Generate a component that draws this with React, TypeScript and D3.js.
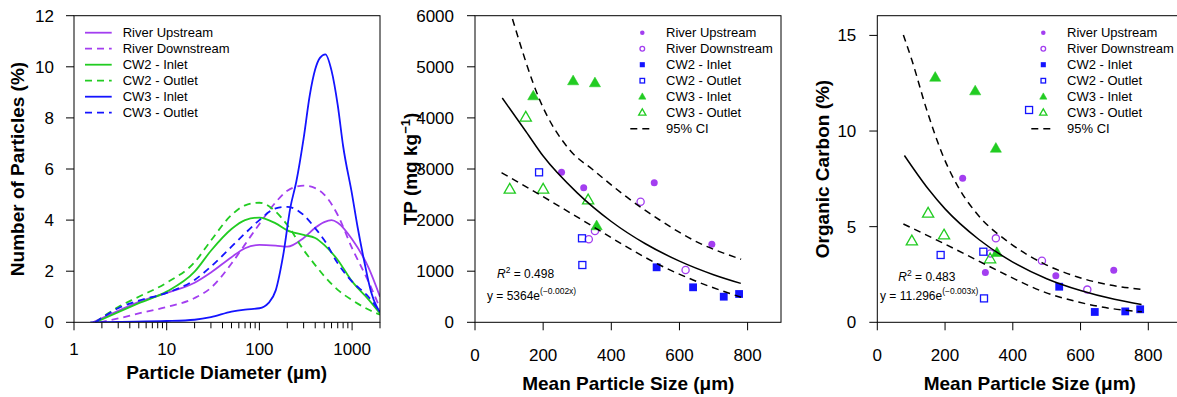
import React from 'react';
import * as d3 from 'd3';

const FONT = '"Liberation Sans", Arial, Helvetica, sans-serif';
const PURPLE = '#a33ef0';
const GREEN = '#22cc22';
const BLUE = '#1414ff';

// ---- panel 1: particle size distributions [diameter (µm), % of particles]
const psdRiverUp = [[1.6, 0], [3, 0.45], [5, 0.8], [10, 1.15], [20, 1.55], [30, 1.95], [50, 2.55], [70, 2.9], [100, 3.03], [150, 3.0], [200, 2.96], [300, 3.3], [400, 3.7], [500, 3.92], [600, 4.0], [700, 3.9], [1000, 3.25], [1500, 2.15], [2000, 1.0]];
const psdRiverDown = [[1.9, 0], [3, 0.15], [5, 0.35], [10, 0.6], [20, 0.95], [30, 1.35], [50, 2.3], [70, 3.05], [100, 3.85], [150, 4.7], [200, 5.15], [300, 5.35], [400, 5.25], [500, 5.0], [700, 4.2], [1000, 2.9], [1500, 1.6], [2000, 0.55]];
const psdCw2In = [[1.7, 0], [3, 0.4], [5, 0.75], [10, 1.2], [20, 1.98], [30, 2.8], [50, 3.65], [70, 4.0], [100, 4.1], [150, 3.87], [200, 3.6], [300, 3.42], [400, 3.3], [500, 3.03], [700, 2.44], [1000, 1.6], [1500, 0.9], [2000, 0.35]];
const psdCw2Out = [[1.7, 0], [3, 0.6], [5, 1.0], [10, 1.55], [20, 2.35], [30, 3.2], [50, 4.2], [70, 4.58], [100, 4.68], [150, 4.33], [200, 3.81], [300, 2.83], [400, 2.24], [500, 1.81], [700, 1.27], [1000, 0.87], [1500, 0.5], [2000, 0.3]];
const psdCw3In = [[1.5, 0], [3, 0.02], [10, 0.05], [20, 0.1], [30, 0.2], [50, 0.42], [70, 0.5], [100, 0.55], [125, 0.75], [150, 1.25], [180, 2.6], [216, 4.5], [250, 5.5], [300, 7.2], [350, 8.9], [400, 9.9], [450, 10.35], [515, 10.49], [600, 9.85], [700, 8.5], [800, 6.9], [1000, 5.0], [1150, 3.7], [1350, 2.4], [1600, 1.2], [1850, 0.6], [2000, 0.4]];
const psdCw3Out = [[1.7, 0], [3, 0.55], [5, 0.85], [10, 1.15], [20, 1.66], [30, 2.18], [50, 2.96], [70, 3.48], [100, 4.0], [150, 4.46], [200, 4.52], [300, 4.2], [400, 3.68], [500, 3.22], [700, 2.31], [1000, 1.59], [1500, 1.0], [2000, 0.4]];

const psdNames = ['River Upstream', 'River Downstream', 'CW2 - Inlet', 'CW2 - Outlet', 'CW3 - Inlet', 'CW3 - Outlet'];
const psdColors = [PURPLE, PURPLE, GREEN, GREEN, BLUE, BLUE];
const psdSeries = [psdRiverUp, psdRiverDown, psdCw2In, psdCw2Out, psdCw3In, psdCw3Out];

const psdXMajor = [1, 10, 100, 1000];
const psdXMinor = [2, 3, 4, 5, 6, 7, 8, 9, 20, 30, 40, 50, 60, 70, 80, 90, 200, 300, 400, 500, 600, 700, 800, 900, 2000];
const psdYTicks = [0, 2, 4, 6, 8, 10, 12];

// ---- panel 2: TP vs mean particle size [µm, mg/kg]
const tpRiverUp = [[254, 2935], [319, 2635], [526, 2732], [695, 1526]];
const tpRiverDown = [[334, 1624], [352, 1787], [486, 2360], [618, 1023]];
const tpCw2In = [[533, 1076], [640, 685], [730, 501], [775, 554]];
const tpCw2Out = [[188, 2935], [314, 1644], [315, 1121]];
const tpCw3In = [[171, 4428], [288, 4722], [352, 4683], [357, 1885]];
const tpCw3Out = [[102, 2603], [149, 4012], [200, 2603], [332, 2393]];
const tpFit = [[80, 4389], [150, 3730], [200, 3253], [300, 2533], [400, 1973], [500, 1537], [600, 1197], [700, 932], [780, 762]];
const tpCiUpper = [[110, 5935], [190, 4350], [278, 3372], [347, 2980], [444, 2458], [542, 2002], [640, 1611], [781, 1233]];
const tpCiLower = [[78, 2928], [200, 2458], [347, 1871], [444, 1480], [542, 1121], [640, 828], [781, 489]];
const tpYTicks = [0, 1000, 2000, 3000, 4000, 5000, 6000];

// ---- panel 3: organic carbon vs mean particle size [µm, %]
const ocRiverUp = [[252, 7.53], [319, 2.61], [527, 2.44], [698, 2.72]];
const ocRiverDown = [[334, 3.6], [350, 4.39], [486, 3.22], [620, 1.71]];
const ocCw2In = [[537, 1.86], [642, 0.54], [732, 0.57], [776, 0.68]];
const ocCw2Out = [[187, 3.52], [313, 3.69], [315, 1.25], [448, 11.1]];
const ocCw3In = [[171, 12.8], [289, 12.09], [350, 9.09], [353, 3.64]];
const ocCw3Out = [[102, 4.25], [150, 5.7], [197, 4.56], [333, 3.31]];
const ocFit = [[80, 8.72], [150, 6.98], [200, 5.93], [300, 4.33], [400, 3.15], [500, 2.28], [600, 1.66], [700, 1.2], [780, 0.93]];
const ocCiUpper = [[77, 15.02], [102, 13.71], [146, 11.1], [195, 8.66], [244, 6.92], [293, 5.7], [392, 4.13], [490, 3.08], [589, 2.38], [687, 1.95], [781, 1.72]];
const ocCiLower = [[77, 5.14], [195, 4.13], [293, 3.26], [392, 2.38], [490, 1.6], [589, 1.08], [687, 0.73], [781, 0.55]];
const ocYTicks = [0, 5, 10, 15];

const sizeTicks = [0, 200, 400, 600, 800];
const scatterNames = ['River Upstream', 'River Downstream', 'CW2 - Inlet', 'CW2 - Outlet', 'CW3 - Inlet', 'CW3 - Outlet'];
const scatterStyles = [
  { shape: 'circle', filled: true, color: PURPLE },
  { shape: 'circle', filled: false, color: PURPLE },
  { shape: 'square', filled: true, color: BLUE },
  { shape: 'square', filled: false, color: BLUE },
  { shape: 'triangle', filled: true, color: GREEN },
  { shape: 'triangle', filled: false, color: GREEN },
];

const TICK = 8;

function Marker({ shape, filled, color, x, y, s = 1 }: any) {
  if (shape === 'circle') {
    return filled
      ? <circle cx={x} cy={y} r={3.5 * s} fill={color} />
      : <circle cx={x} cy={y} r={3.6 * s} fill="none" stroke={color} strokeWidth={1.3} />;
  }
  if (shape === 'square') {
    const h = (filled ? 3.9 : 3.5) * s;
    return <rect x={x - h} y={y - h} width={2 * h} height={2 * h}
      fill={filled ? color : 'none'} stroke={filled ? 'none' : color} strokeWidth={1.3} />;
  }
  const w = 5.6 * s, top = 5.9 * s, bot = 3.8 * s;
  return <path d={`M${x},${y - top}L${x + w},${y + bot}L${x - w},${y + bot}Z`}
    fill={filled ? color : 'none'} stroke={color} strokeWidth={filled ? 0.5 : 1.3} strokeLinejoin="miter" />;
}

function PsdPanel() {
  const x = d3.scaleLog().domain([1, 2000]).range([74, 380]);
  const y = d3.scaleLinear().domain([0, 12]).range([322.3, 15.7]);
  const line = d3.line<any>().x(d => x(d[0])).y(d => y(d[1])).curve(d3.curveMonotoneX);
  const [x0, x1] = x.range();
  const [y0, y1] = y.range();
  return (
    <g>
      <defs>
        <clipPath id="clip1"><rect x={x0} y={y1} width={x1 - x0} height={y0 - y1} /></clipPath>
      </defs>
      <g clipPath="url(#clip1)">
        {psdSeries.map((s, i) => (
          <path key={i} d={line(s) as string} fill="none" stroke={psdColors[i]} strokeWidth={1.8}
            strokeDasharray={i % 2 ? '7,5' : undefined} />
        ))}
      </g>
      <rect x={x0} y={y1} width={x1 - x0} height={y0 - y1} fill="none" stroke="#000" strokeWidth={1} />
      {psdYTicks.map(t => (
        <g key={t}>
          <line x1={x0 - TICK} x2={x0} y1={y(t)} y2={y(t)} stroke="#000" />
          <text x={x0 - 20} y={y(t)} dy="0.35em" textAnchor="end" fontSize={17}>{t}</text>
        </g>
      ))}
      {psdXMajor.map(t => (
        <g key={t}>
          <line x1={x(t)} x2={x(t)} y1={y0} y2={y0 + TICK} stroke="#000" />
          <text x={x(t)} y={349} dy="0.35em" textAnchor="middle" fontSize={17}>{t}</text>
        </g>
      ))}
      {psdXMinor.map(t => (
        <line key={t} x1={x(t)} x2={x(t)} y1={y0} y2={y0 + TICK - 2} stroke="#000" />
      ))}
      <text x={226.7} y={371.7} dy="0.36em" textAnchor="middle" fontSize={19} fontWeight="bold">Particle Diameter (µm)</text>
      <text transform="translate(17.5,169) rotate(-90)" dy="0.36em" textAnchor="middle" fontSize={19} fontWeight="bold">Number of Particles (%)</text>
      {psdNames.map((n, i) => (
        <g key={n}>
          <line x1={85} x2={111.7} y1={32.7 + 16 * i} y2={32.7 + 16 * i} stroke={psdColors[i]} strokeWidth={1.8}
            strokeDasharray={i % 2 ? '7,5' : undefined} />
          <text x={122.7} y={32.7 + 16 * i} dy="0.35em" fontSize={13}>{n}</text>
        </g>
      ))}
    </g>
  );
}

function ScatterPanel({ id, x, y, groups, fit, ciUpper, ciLower, yTicks, yTitle, yTitleX, r2, eq, annX, eqX, r2Y, eqY, legX }: any) {
  const line = d3.line<any>().x(d => x(d[0])).y(d => y(d[1])).curve(d3.curveMonotoneX);
  const [x0, x1] = x.range();
  const [y0, y1] = y.range();
  return (
    <g>
      <defs>
        <clipPath id={id}><rect x={x0} y={y1} width={x1 - x0} height={y0 - y1} /></clipPath>
      </defs>
      <g clipPath={`url(#${id})`}>
        {groups.map((g: any, gi: number) => g.map((p: any, pi: number) => (
          <Marker key={`${gi}-${pi}`} {...scatterStyles[gi]} x={x(p[0])} y={y(p[1])} />
        )))}
        <path d={line(fit) as string} fill="none" stroke="#000" strokeWidth={1.5} />
        <path d={line(ciUpper) as string} fill="none" stroke="#000" strokeWidth={1.5} strokeDasharray="7,5" />
        <path d={line(ciLower) as string} fill="none" stroke="#000" strokeWidth={1.5} strokeDasharray="7,5" />
      </g>
      <rect x={x0} y={y1} width={x1 - x0} height={y0 - y1} fill="none" stroke="#000" strokeWidth={1} />
      {yTicks.map((t: number) => (
        <g key={t}>
          <line x1={x0 - TICK} x2={x0} y1={y(t)} y2={y(t)} stroke="#000" />
          <text x={x0 - 21} y={y(t)} dy="0.35em" textAnchor="end" fontSize={17}>{t}</text>
        </g>
      ))}
      {sizeTicks.map(t => (
        <g key={t}>
          <line x1={x(t)} x2={x(t)} y1={y0} y2={y0 + TICK} stroke="#000" />
          <text x={x(t)} y={355} dy="0.35em" textAnchor="middle" fontSize={17}>{t}</text>
        </g>
      ))}
      <text x={x(0) + (x(800) - x(0)) / 2 + 17} y={383.3} dy="0.36em" textAnchor="middle" fontSize={19} fontWeight="bold">
        Mean Particle Size (μm)
      </text>
      <text transform={`translate(${yTitleX},169) rotate(-90)`} dy="0.36em" textAnchor="middle" fontSize={19} fontWeight="bold">
        {yTitle}
      </text>
      <text x={annX} y={r2Y} fontSize={12}>
        <tspan fontStyle="italic">R</tspan>
        <tspan fontSize={8.5} dy={-5}>2</tspan>
        <tspan dy={5}>{` = ${r2}`}</tspan>
      </text>
      <text x={eqX} y={eqY} fontSize={12}>
        {`y = ${eq[0]}e`}
        <tspan fontSize={8.5} dy={-6}>{`(−${eq[1]}x)`}</tspan>
      </text>
      {scatterNames.map((n, i) => (
        <g key={n}>
          <Marker {...scatterStyles[i]} x={legX} y={32.7 + 16 * i} s={0.65} />
          <text x={legX + 23.7} y={32.7 + 16 * i} dy="0.35em" fontSize={13}>{n}</text>
        </g>
      ))}
      <line x1={legX - 12} x2={legX + 8.5} y1={128.7} y2={128.7} stroke="#000" strokeWidth={1.5} strokeDasharray="7,5" />
      <text x={legX + 23.7} y={128.7} dy="0.35em" fontSize={13}>95% CI</text>
    </g>
  );
}

export default function App() {
  const tpX = d3.scaleLinear().domain([0, 898]).range([475, 781]);
  const tpY = d3.scaleLinear().domain([0, 6000]).range([322.3, 15.7]);
  const ocX = d3.scaleLinear().domain([0, 898]).range([877.3, 1181.5]);
  const ocY = d3.scaleLinear().domain([0, 16.03]).range([322.3, 15.7]);

  const tpTitle = (
    <>
      TP (mg kg<tspan fontSize={13} dy={-7}>−1</tspan><tspan dy={7}>)</tspan>
    </>
  );

  return (
    <svg width={1177} height={397} style={{ position: 'absolute', left: 0, top: 0, background: '#fff' }}
      fontFamily={FONT}>
      <rect width={1177} height={397} fill="#fff" />
      <PsdPanel />
      <ScatterPanel id="clip2" x={tpX} y={tpY}
        groups={[tpRiverUp, tpRiverDown, tpCw2In, tpCw2Out, tpCw3In, tpCw3Out]}
        fit={tpFit} ciUpper={tpCiUpper} ciLower={tpCiLower} yTicks={tpYTicks}
        yTitle={tpTitle} yTitleX={410} r2="0.498" eq={['5364', '0.002']}
        annX={497} eqX={487} r2Y={278} eqY={300} legX={642.3} />
      <ScatterPanel id="clip3" x={ocX} y={ocY}
        groups={[ocRiverUp, ocRiverDown, ocCw2In, ocCw2Out, ocCw3In, ocCw3Out]}
        fit={ocFit} ciUpper={ocCiUpper} ciLower={ocCiLower} yTicks={ocYTicks}
        yTitle="Organic Carbon (%)" yTitleX={821.7} r2="0.483" eq={['11.296', '0.003']}
        annX={898.3} eqX={880} r2Y={281} eqY={300} legX={1043.3} />
    </svg>
  );
}
